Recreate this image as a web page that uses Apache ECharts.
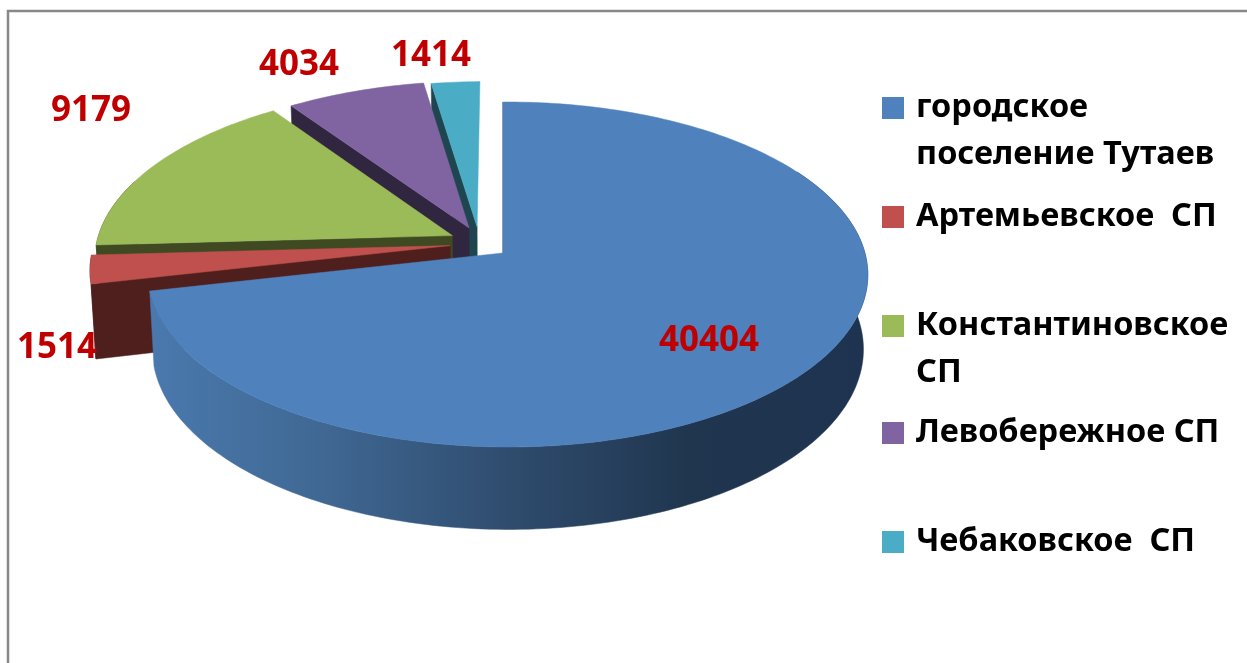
<!DOCTYPE html>
<html>
<head>
<meta charset="utf-8">
<style>
  html, body { margin: 0; padding: 0; background: #fff; overflow: hidden; }
  #chart { width: 1247px; height: 663px; }
</style>
<script src="https://cdn.jsdelivr.net/npm/echarts@6/dist/echarts.min.js"></script>
</head>
<body>
<div id="chart"></div>
<script>
// данные
const names = ['городское\nпоселение Тутаев', 'Артемьевское  СП', 'Константиновское\nСП', 'Левобережное СП', 'Чебаковское  СП'];
const values = [40404, 1514, 9179, 4034, 1414];
const colors = ['#4f81bd', '#c0504d', '#9bbb59', '#8064a2', '#4bacc6'];
const wallColors = ['#1f344f', '#4f1f1e', '#3f4a22', '#31263f', '#1f4650'];

// вынос секторов и подписи
const offsets = [[0, 0], [-0.149, -0.044], [-0.144, -0.104], [-0.097, -0.15], [-0.074, -0.156]];
const radii = [1, 1.022, 1.022, 1.01, 1];
const labelPos = [[709, 341], [57, 348], [91, 111], [299, 65], [431, 56]];
const legendCenter = [108, 217, 326, 433, 542];
const drawOrder = [5, 4, 3, 2, 1]; // сзади вперёд: голубой первый, синий последний

const total = values.reduce((a, b) => a + b, 0);

// перспектива: единичный круг -> экран
const X0 = 503, Y0 = 253, B = 357, A = 169.8, P = 0.1247, Q = 0.0136;
const DEPTH = 73.5, BOTTOM_X = 0.988, BOTTOM_Y = 1.046;
const LEGEND_LINE = 47;
// боковая стенка видна только спереди
const SIDE_FROM = Math.PI / 3, SIDE_TO = Math.PI * 1.61;

function project(u, v, bottom) {
    const d = 1 - P * v - Q * u;
    if (!bottom) return [X0 + B * u / d, Y0 + A * v / d];
    return [X0 + B * BOTTOM_X * u / d, Y0 + DEPTH + A * BOTTOM_Y * v / d];
}

function slicePoint(i, angle, bottom) {
    const [ox, oy] = offsets[i];
    return project(ox + radii[i] * Math.sin(angle), oy - radii[i] * Math.cos(angle), bottom);
}

function arc(i, from, to, bottom) {
    const pts = [];
    const steps = Math.max(2, Math.ceil((to - from) / 0.02));
    for (let k = 0; k <= steps; k++) {
        pts.push(slicePoint(i, from + (to - from) * k / steps, bottom));
    }
    return pts;
}

const blueSide = new echarts.graphic.LinearGradient(0, 0, 1, 0, [
    { offset: 0, color: '#4a79ae' },
    { offset: 0.25, color: '#3f6792' },
    { offset: 0.5, color: '#2f4c6e' },
    { offset: 0.75, color: '#20364f' },
    { offset: 1, color: '#1d3350' }
]);

function renderSlice(params, api) {
    const i = params.seriesIndex;
    let start = 0;
    for (let k = 0; k < i; k++) start += values[k] / total * Math.PI * 2;
    const end = start + api.value(0) / total * Math.PI * 2;

    const [ox, oy] = offsets[i];
    const apexTop = project(ox, oy, false);
    const apexBottom = project(ox, oy, true);
    const wall = wallColors[i];

    const polygon = (points, fill) => ({
        type: 'polygon',
        shape: { points },
        style: { fill, stroke: fill, lineWidth: 0.5 }
    });

    const children = [
        polygon([apexTop, slicePoint(i, start, false), slicePoint(i, start, true), apexBottom], wall)
    ];
    const sideFrom = Math.max(start, SIDE_FROM);
    const sideTo = Math.min(end, SIDE_TO);
    if (sideTo > sideFrom) {
        children.push(polygon(
            arc(i, sideFrom, sideTo, false).concat(arc(i, sideFrom, sideTo, true).reverse()),
            i === 0 ? blueSide : wall
        ));
    }
    children.push(polygon([apexTop].concat(arc(i, start, end, false)), colors[i]));
    children.push({
        type: 'text',
        style: {
            text: String(values[i]),
            x: labelPos[i][0],
            y: labelPos[i][1],
            align: 'center',
            verticalAlign: 'middle',
            fill: '#c00000',
            font: 'bold 35px "Noto Sans"'
        }
    });
    return { type: 'group', children };
}

const chart = echarts.init(document.getElementById('chart'));
chart.setOption({
    animation: false,
    backgroundColor: '#fff',
    graphic: [{
        type: 'rect',
        shape: { x: 8, y: 11, width: 1500, height: 900 },
        style: { fill: 'none', stroke: '#888', lineWidth: 2.5 },
        silent: true
    }],
    // у каждого пункта своя легенда: шаг между ними в оригинале ровный, а высота текста разная
    legend: names.map((name, i) => {
        const twoLines = name.includes('\n');
        return {
            data: [name],
            left: 882,
            top: legendCenter[i] - (twoLines ? LEGEND_LINE * 1.5 : LEGEND_LINE / 2),
            padding: 0,
            itemWidth: 22,
            itemHeight: 22,
            icon: 'rect',
            selectedMode: false,
            // пустая строка сверху, чтобы значок стоял напротив первой строки
            formatter: n => (twoLines ? '\n' + n : n),
            textStyle: {
                fontFamily: 'Noto Sans',
                fontWeight: 'bold',
                fontSize: 32.5,
                color: '#000',
                lineHeight: LEGEND_LINE,
                padding: [0, 0, 0, 7]
            }
        };
    }),
    series: names.map((name, i) => ({
        type: 'custom',
        name,
        coordinateSystem: 'none',
        silent: true,
        z: drawOrder[i],
        itemStyle: { color: colors[i] },
        data: [values[i]],
        renderItem: renderSlice
    }))
});
</script>
</body>
</html>
